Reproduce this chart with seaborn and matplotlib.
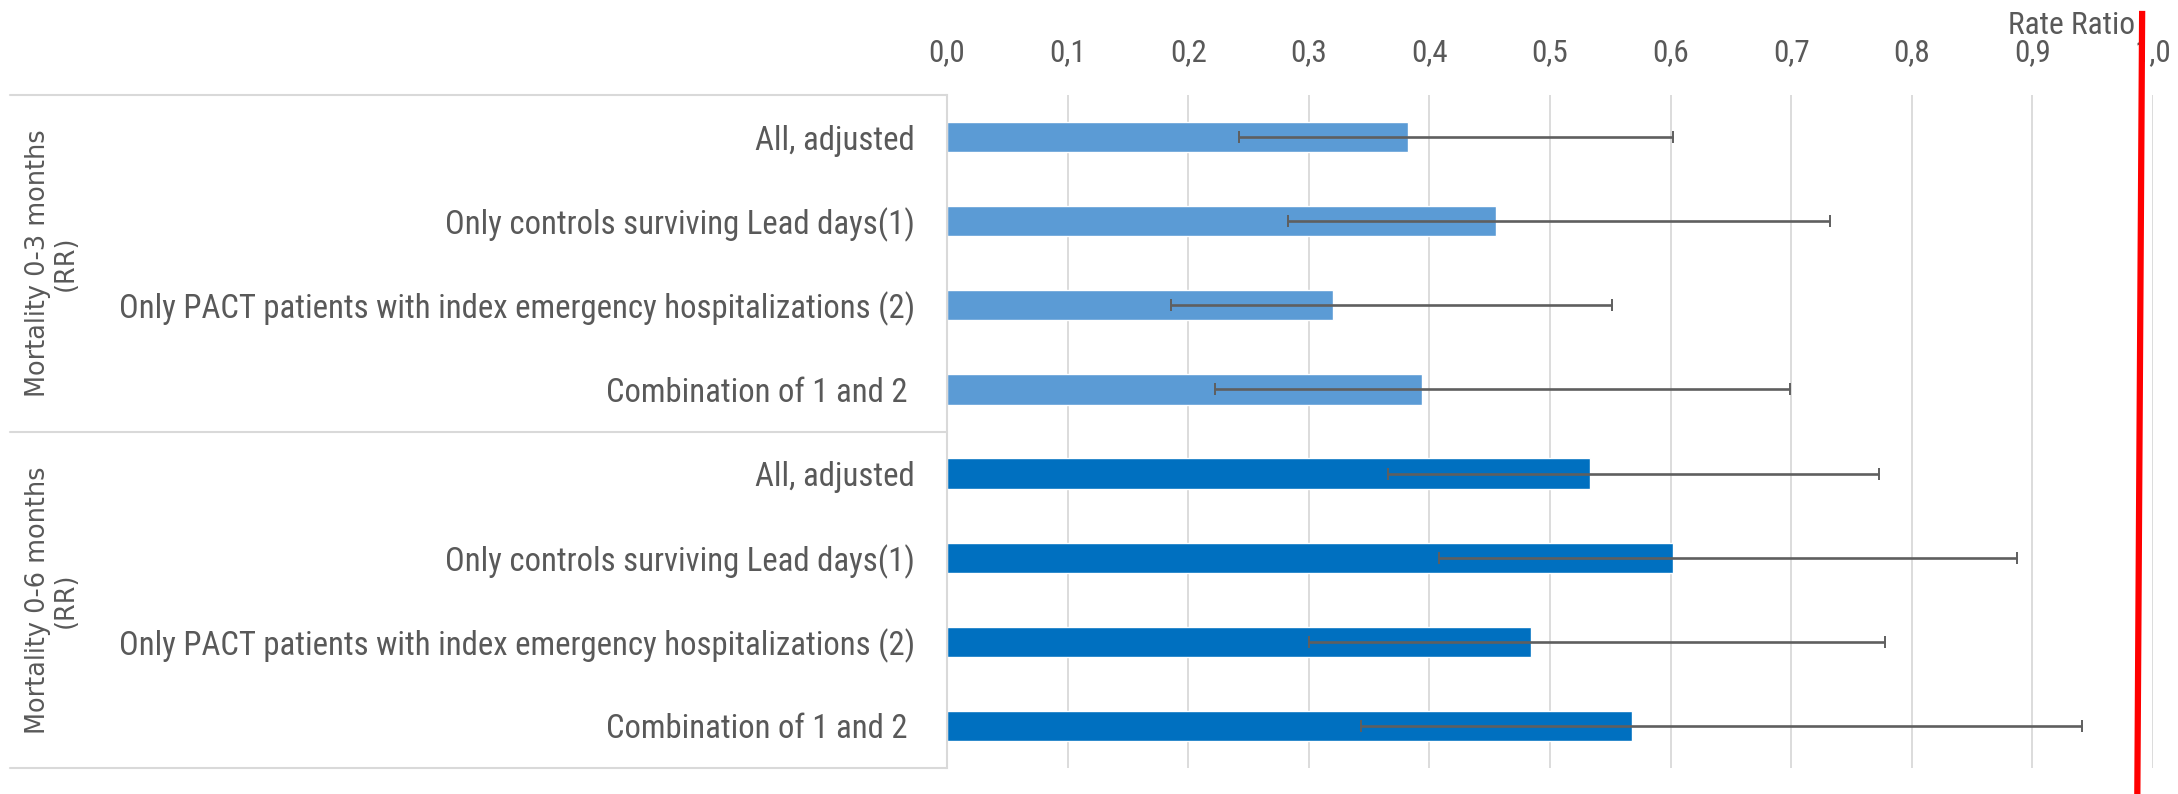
import os
import matplotlib
matplotlib.use("Agg")
import matplotlib.pyplot as plt
from matplotlib import font_manager
from matplotlib.font_manager import FontProperties
from matplotlib.lines import Line2D
import seaborn as sns
import pandas as pd
import numpy as np

# Rate ratios with 95% confidence limits
groups = ["Mortality 0-3 months\n(RR)", "Mortality 0-6 months\n(RR)"]
analyses = [
    "All, adjusted",
    "Only controls surviving Lead days(1)",
    "Only PACT patients with index emergency hospitalizations (2)",
    "Combination of 1 and 2 ",
]
rr_3m = [0.382, 0.455, 0.320, 0.394]
lo_3m = [0.242, 0.283, 0.186, 0.222]
hi_3m = [0.602, 0.732, 0.551, 0.699]
rr_6m = [0.533, 0.602, 0.484, 0.568]
lo_6m = [0.366, 0.408, 0.300, 0.343]
hi_6m = [0.773, 0.887, 0.778, 0.941]
x_ticks = [0.0, 0.1, 0.2, 0.3, 0.4, 0.5, 0.6, 0.7, 0.8, 0.9, 1.0]
x_tick_labels = ["0,0", "0,1", "0,2", "0,3", "0,4", "0,5", "0,6", "0,7", "0,8", "0,9", "1,0"]
reference_x = [0.991, 0.987]  # hand-drawn no-effect marker (top, bottom)

rows = []
for g, rr, lo, hi in [(groups[0], rr_3m, lo_3m, hi_3m), (groups[1], rr_6m, lo_6m, hi_6m)]:
    for a, r, l, h in zip(analyses, rr, lo, hi):
        rows.append({"group": g, "analysis": a, "key": g + "|" + a, "rr": r, "lo": l, "hi": h})
df = pd.DataFrame(rows)

sns.set_theme(style="white")
plt.rcParams["font.family"] = ["Liberation Sans", "DejaVu Sans"]


def find_font(patterns):
    files = [f.fname for f in font_manager.fontManager.ttflist]
    for pat in patterns:
        for fn in files:
            if os.path.basename(fn).lower().startswith(pat.lower()):
                return fn
    return None


narrow_file = find_font(["LiberationSansNarrow-Regular", "RobotoCondensed-Regular",
                         "OpenSans_Condensed-Regular", "OpenSansCondensed-Regular",
                         "DejaVuSansCondensed.", "NotoSans-Condensed."])


def narrow_fp(size):
    if narrow_file:
        return FontProperties(fname=narrow_file, size=size)
    return FontProperties(family="Liberation Sans", size=size)


W, H = 2178, 794
fig = plt.figure(figsize=(W / 100, H / 100), dpi=100)
ax_left, ax_right, ax_top, ax_bottom = 947, 2153, 95, 768
ax = fig.add_axes([ax_left / W, 1 - ax_bottom / H, (ax_right - ax_left) / W, (ax_bottom - ax_top) / H])
renderer = fig.canvas.get_renderer()


def fit_size(text, target_px, fp_factory, base=20.0):
    t = fig.text(0, 0, text, fontproperties=fp_factory(base))
    w = t.get_window_extent(renderer).width
    t.remove()
    return base * target_px / w


light, dark = "#5B9BD5", "#0070C0"
grey_text = "#595959"
grid_col = "#D9D9D9"

sns.barplot(data=df, x="rr", y="key", hue="group", palette=[light, dark], saturation=1,
            dodge=False, width=0.36, orient="h", errorbar=None, legend=False,
            order=list(df["key"]), ax=ax, zorder=2)

ypos = np.arange(len(df))
ax.errorbar(df["rr"], ypos, xerr=[df["rr"] - df["lo"], df["hi"] - df["rr"]],
            fmt="none", ecolor="#5F5F5F", elinewidth=1.9, capsize=4.3, capthick=1.4, zorder=3)

ax.set_xlim(0, 1.0)
ax.set_ylim(len(df) - 0.5, -0.5)
ax.set_xticks(x_ticks)
ax.set_xticklabels(x_tick_labels)
ax.xaxis.tick_top()
ax.set_yticks(ypos)
ax.set_yticklabels(df["analysis"])

cat_size = fit_size(analyses[2], 794, narrow_fp)
tick_size = fit_size("0,0", 37, narrow_fp)
title_size = fit_size("Rate Ratio", 127, narrow_fp)
for lbl in ax.get_yticklabels():
    lbl.set_fontproperties(narrow_fp(cat_size))
    lbl.set_color(grey_text)
for lbl in ax.get_xticklabels():
    lbl.set_fontproperties(narrow_fp(tick_size))
    lbl.set_color(grey_text)
ax.tick_params(axis="x", length=0, pad=20)
ax.tick_params(axis="y", length=0, pad=23)
ax.set_xlabel("")
ax.set_ylabel("")
ax.grid(axis="x", color=grid_col, linewidth=1.3, zorder=0)
ax.set_axisbelow(True)
for s in ["top", "right", "bottom"]:
    ax.spines[s].set_visible(False)
ax.spines["left"].set_color(grid_col)
ax.spines["left"].set_linewidth(1.5)

# Axis title
ax.text(0.985, 1.104, "Rate Ratio", transform=ax.get_xaxis_transform(), ha="right", va="center",
        fontproperties=narrow_fp(title_size), color=grey_text)

# Reference line near RR = 1
ax.plot(reference_x, [1.125, -0.04], transform=ax.get_xaxis_transform(),
        color="#FF0000", linewidth=4.5, clip_on=False, zorder=10, solid_capstyle="butt")

# Group separators of the two-level category axis
for yy in [ax_top, (ax_top + ax_bottom) / 2, ax_bottom]:
    fig.add_artist(Line2D([10 / W, ax_left / W], [1 - yy / H, 1 - yy / H], color=grid_col, linewidth=1.5))

grp_size = fit_size("Mortality 0-3 months", 268, lambda s: FontProperties(family="DejaVu Sans", size=s))
for i, g in enumerate(groups):
    y0 = ax_top + (ax_bottom - ax_top) * (i + 0.5) / 2
    fig.text(52 / W, 1 - y0 / H, g, rotation=90, ha="center", va="center", fontsize=grp_size,
             color=grey_text, family=["DejaVu Sans"], linespacing=1.05)

fig.savefig("out.png", dpi=100, facecolor="white")
